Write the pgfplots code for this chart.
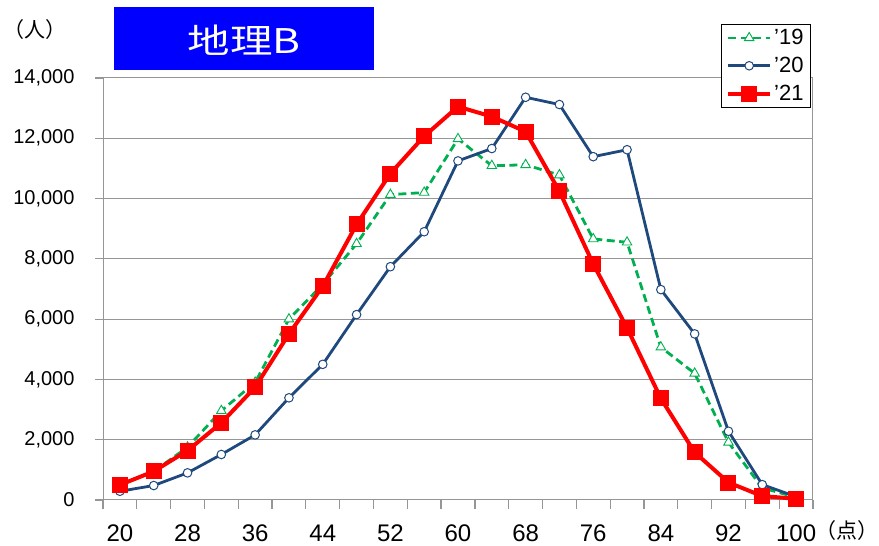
\documentclass[border=0pt]{standalone}
\usepackage{pgfplots}
\pgfplotsset{compat=1.18}
\usepackage{fontspec}
\setmainfont{Liberation Sans}
\newfontfamily\jp{Noto Sans CJK JP}
\definecolor{cgreen}{RGB}{0,176,80}
\definecolor{cblue}{RGB}{31,73,125}
\definecolor{cred}{RGB}{255,0,0}
\definecolor{cgrid}{RGB}{150,150,150}
\definecolor{ctitle}{RGB}{0,0,255}
\begin{document}
\begin{tikzpicture}[x=1pt,y=1pt]
\path[use as bounding box] (0,0) rectangle (879,546);
\begin{axis}[
  at={(103pt,46pt)}, anchor=south west,
  scale only axis, width=710pt, height=422pt,
  xmin=18, xmax=102, ymin=0, ymax=14000,
  scaled ticks=false,
  xtick={18,22,...,102},
  xticklabels={20,,28,,36,,44,,52,,60,,68,,76,,84,,92,,100,},
  xticklabel style={font=\fontsize{24}{28}\selectfont, xshift=16.9pt, yshift=-21pt},
  ytick={0,2000,...,14000},
  ymajorgrids, grid style={cgrid, line width=1pt},
  axis line style={cgrid, line width=1pt},
  xtick pos=bottom, ytick pos=left,
  major tick length=0pt,
  unbounded coords=jump,
  /pgf/number format/.cd, 1000 sep={,}, assume math mode=true,
  /pgfplots/.cd,
  yticklabel style={font=\fontsize{20}{24}\selectfont, xshift=-25pt},
  legend style={at={(rel axis cs:0.870,1.128)}, anchor=north west,
    draw=black, line width=1pt, font=\fontsize{22}{26}\selectfont,
    inner ysep=3pt, inner xsep=5pt, row sep=7pt, cells={anchor=west}},
  legend image code/.code={\draw[mark repeat=2,mark phase=2] plot coordinates {(0pt,0pt)(21pt,0pt)(42pt,0pt)};},
  clip=false,
]
% tick marks below the x axis, between categories
\addplot[ycomb, cgrid, line width=1.2pt, no marks, forget plot]
  coordinates {(18,-300)(22,-300)(26,-300)(30,-300)(34,-300)(38,-300)(42,-300)(46,-300)(50,-300)(54,-300)(58,-300)(62,-300)(66,-300)(70,-300)(74,-300)(78,-300)(82,-300)(86,-300)(90,-300)(94,-300)(98,-300)(102,-300)};
% tick marks left of the y axis
\addplot[cgrid, line width=1.2pt, no marks, forget plot]
  coordinates {(17.05,0)(18,0)(nan,nan)(17.05,2000)(18,2000)(nan,nan)(17.05,4000)(18,4000)(nan,nan)(17.05,6000)(18,6000)(nan,nan)(17.05,8000)(18,8000)(nan,nan)(17.05,10000)(18,10000)(nan,nan)(17.05,12000)(18,12000)(nan,nan)(17.05,14000)(18,14000)};
\addplot[cgreen, line width=2.8pt, dash pattern=on 8pt off 4.5pt,
  mark=triangle*, mark size=5.5pt, mark options={solid, fill=white, draw=cgreen, line width=0.9pt}]
  coordinates {(20,500)(24,950)(28,1750)(32,2960)(36,3900)(40,6000)(44,7150)(48,8500)(52,10130)(56,10200)(60,11980)(64,11090)(68,11120)(72,10780)(76,8660)(80,8550)(84,5070)(88,4200)(92,1910)(96,400)(100,90)};
\addlegendentry{'19}
\addplot[cblue, line width=2.8pt,
  mark=*, mark size=4.3pt, mark options={fill=white, draw=cblue, line width=1pt}]
  coordinates {(20,290)(24,480)(28,900)(32,1510)(36,2160)(40,3390)(44,4500)(48,6150)(52,7740)(56,8900)(60,11250)(64,11660)(68,13360)(72,13120)(76,11390)(80,11620)(84,6980)(88,5510)(92,2280)(96,510)(100,110)};
\addlegendentry{'20}
\addplot[cred, line width=4pt,
  mark=square*, mark size=7.5pt, mark options={fill=cred, draw=cred, line width=0pt}]
  coordinates {(20,500)(24,950)(28,1640)(32,2560)(36,3740)(40,5510)(44,7090)(48,9140)(52,10830)(56,12070)(60,13050)(64,12720)(68,12220)(72,10240)(76,7830)(80,5710)(84,3370)(88,1580)(92,580)(96,130)(100,40)};
\addlegendentry{'21}
\end{axis}
\fill[ctitle] (114,476) rectangle (374,539);
\node[white] at (244,506) {\scalebox{1.25}[1]{\jp\fontsize{34}{40}\selectfont 地理B}};
\node at (35,516) {\jp\fontsize{21}{25}\selectfont （人）};
\node at (847,15) {\jp\fontsize{21}{25}\selectfont （点）};
\end{tikzpicture}
\end{document}
